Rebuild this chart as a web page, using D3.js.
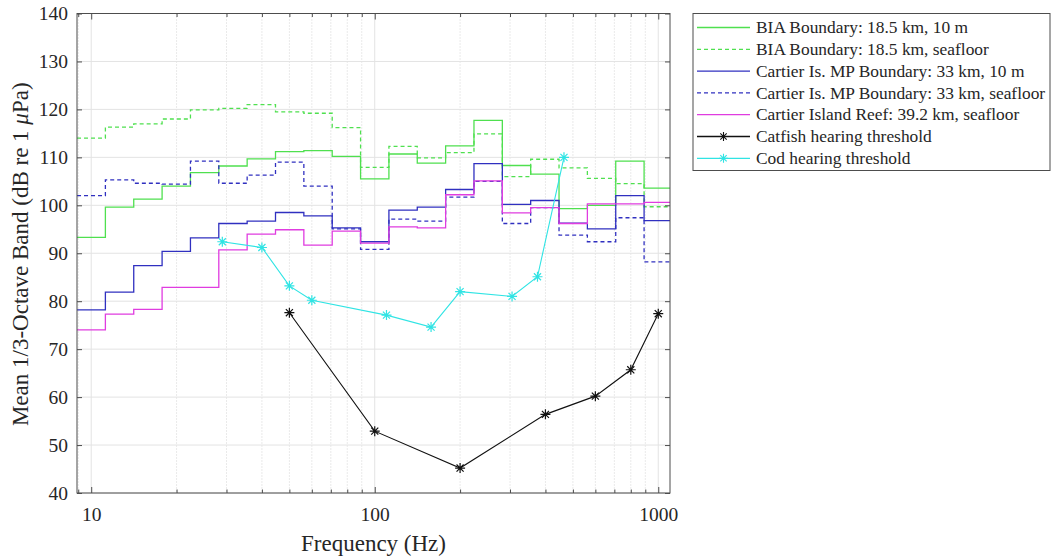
<!DOCTYPE html>
<html>
<head>
<meta charset="utf-8">
<script src="https://cdn.jsdelivr.net/npm/d3@7"></script>
<style>
  html, body { margin: 0; padding: 0; background: #fff; }
  svg { display: block; }
  svg text { font-family: "Liberation Serif", "Times New Roman", serif; fill: #262626; }
</style>
</head>
<body>
<svg id="chart" width="1054" height="556"></svg>
<script>
// 1/3-octave band centre frequencies (Hz)
const bandCenters = [10, 12.5, 16, 20, 25, 31.5, 40, 50, 63, 80, 100, 125, 160, 200, 250, 315, 400, 500, 630, 800, 1000];

// Mean received level per band (dB re 1 µPa)
const biaSurface      = [93.3, 99.6, 101.3, 104.0, 106.8, 108.2, 109.7, 111.2, 111.4, 110.2, 105.5, 110.7, 108.8, 112.4, 117.7, 108.3, 106.5, 99.3, 100.0, 109.2, 103.6];
const biaSeafloor     = [114.0, 116.3, 117.0, 118.0, 119.9, 120.2, 121.0, 119.5, 119.2, 116.2, 107.9, 112.3, 109.9, 111.0, 114.9, 106.0, 109.6, 107.8, 105.6, 104.5, 99.7];
const cartierSurface  = [78.2, 81.9, 87.4, 90.4, 93.2, 96.2, 96.7, 98.5, 97.8, 95.3, 92.4, 99.0, 99.6, 103.3, 108.7, 100.2, 101.0, 96.3, 95.1, 102.0, 96.8];
const cartierSeafloor = [102.0, 105.3, 104.6, 104.4, 109.2, 104.6, 106.3, 109.0, 104.0, 95.1, 90.8, 97.1, 96.7, 101.7, 105.0, 96.2, 99.5, 93.8, 92.4, 97.4, 88.2];
const reefSeafloor    = [74.0, 77.3, 78.3, 82.9, 82.9, 90.7, 94.0, 94.9, 91.7, 94.6, 92.1, 95.5, 95.3, 102.2, 105.1, 98.4, 99.5, 96.2, 100.3, 100.3, 100.6];

// Hearing thresholds
const catfishFreq  = [50, 100, 200, 400, 600, 800, 1000];
const catfishLevel = [77.6, 52.9, 45.2, 56.4, 60.2, 65.7, 77.4];
const codFreq      = [29, 40, 50, 60, 110, 158, 200, 305, 375, 465];
const codLevel     = [92.4, 91.2, 83.2, 80.2, 77.1, 74.6, 82.0, 81.0, 85.1, 110.0];

// Axis ticks
const yTicks = [40, 50, 60, 70, 80, 90, 100, 110, 120, 130, 140];
const xMajorTicks = [10, 100, 1000];
const xTickLabels = ["10", "100", "1000"];

// Legend entries
const legendLabels = [
  "BIA Boundary: 18.5 km, 10 m",
  "BIA Boundary: 18.5 km, seafloor",
  "Cartier Is. MP Boundary: 33 km, 10 m",
  "Cartier Is. MP Boundary: 33 km, seafloor",
  "Cartier Island Reef: 39.2 km, seafloor",
  "Catfish hearing threshold",
  "Cod hearing threshold"
];

const serif = '"Liberation Serif", "Times New Roman", serif';
const colors = { green: "#4fe04f", blue: "#3030c0", magenta: "#e03ce0", black: "#111111", cyan: "#30e4e4" };

const stepSeries = [
  { values: biaSurface,      color: colors.green,   dash: null },
  { values: biaSeafloor,     color: colors.green,   dash: "4,3" },
  { values: cartierSurface,  color: colors.blue,    dash: null },
  { values: cartierSeafloor, color: colors.blue,    dash: "4,3" },
  { values: reefSeafloor,    color: colors.magenta, dash: null }
];
const markerSeries = [
  { freq: catfishFreq, values: catfishLevel, color: colors.black },
  { freq: codFreq,     values: codLevel,     color: colors.cyan }
];

const svg = d3.select("#chart");
const plot = { left: 77, right: 670, top: 13.5, bottom: 493 };

const x = d3.scaleLog().domain([8.91, 1100]).range([plot.left, plot.right]);
const y = d3.scaleLinear().domain([40, 140]).range([plot.bottom, plot.top]);

svg.append("defs").append("clipPath").attr("id", "plotClip")
  .append("rect")
  .attr("x", plot.left).attr("y", plot.top)
  .attr("width", plot.right - plot.left).attr("height", plot.bottom - plot.top);

// Grid
const grid = svg.append("g");
const minorTicks = [9];
[10, 100].forEach(d => { for (let k = 2; k <= 9; k++) minorTicks.push(d * k); });
const minorVisible = minorTicks.filter(f => x(f) > plot.left && x(f) < plot.right);
grid.selectAll("line.minor").data(minorVisible)
  .join("line").attr("class", "minor")
  .attr("x1", d => x(d)).attr("x2", d => x(d))
  .attr("y1", plot.top).attr("y2", plot.bottom)
  .attr("stroke", "#d4d4d4").attr("stroke-width", 1).attr("stroke-dasharray", "1,2");
grid.selectAll("line.vmajor").data(xMajorTicks)
  .join("line").attr("class", "vmajor")
  .attr("x1", d => x(d)).attr("x2", d => x(d))
  .attr("y1", plot.top).attr("y2", plot.bottom)
  .attr("stroke", "#e3e3e3").attr("stroke-width", 1);
grid.selectAll("line.hmajor").data(yTicks)
  .join("line").attr("class", "hmajor")
  .attr("x1", plot.left).attr("x2", plot.right)
  .attr("y1", d => y(d)).attr("y2", d => y(d))
  .attr("stroke", "#e3e3e3").attr("stroke-width", 1);

// Step curves over the 1/3-octave band edges
function bandEdges(fc) {
  const n = Math.round(10 * Math.log10(fc));
  return [Math.pow(10, (n - 0.5) / 10), Math.pow(10, (n + 0.5) / 10)];
}
const line = d3.line().x(d => x(d[0])).y(d => y(d[1]));
const data = svg.append("g").attr("clip-path", "url(#plotClip)");

stepSeries.forEach(s => {
  const pts = [];
  bandCenters.forEach((fc, i) => {
    const [lo, hi] = bandEdges(fc);
    pts.push([lo, s.values[i]], [hi, s.values[i]]);
  });
  data.append("path").datum(pts)
    .attr("d", line)
    .attr("fill", "none")
    .attr("stroke", s.color)
    .attr("stroke-width", 1.3)
    .attr("stroke-dasharray", s.dash);
});

// Eight-armed asterisk marker
function asterisk(r) {
  const d = r * Math.SQRT1_2;
  return `M${-r},0L${r},0M0,${-r}L0,${r}M${-d},${-d}L${d},${d}M${-d},${d}L${d},${-d}`;
}

markerSeries.forEach(s => {
  const pts = s.freq.map((f, i) => [f, s.values[i]]);
  data.append("path").datum(pts)
    .attr("d", line).attr("fill", "none")
    .attr("stroke", s.color).attr("stroke-width", 1.1);
  data.selectAll(null).data(pts).join("path")
    .attr("transform", d => `translate(${x(d[0])},${y(d[1])})`)
    .attr("d", asterisk(5))
    .attr("fill", "none").attr("stroke", s.color).attr("stroke-width", 1.2);
});

// Axes (ticks pointing inward, boxed)
const axisColor = "#4d4d4d";
const axes = svg.append("g");
axes.append("rect")
  .attr("x", plot.left).attr("y", plot.top)
  .attr("width", plot.right - plot.left).attr("height", plot.bottom - plot.top)
  .attr("fill", "none").attr("stroke", axisColor).attr("stroke-width", 1);

axes.append("g").attr("transform", `translate(0,${plot.bottom})`)
  .call(d3.axisBottom(x).tickValues(xMajorTicks).tickSize(-6).tickFormat((d, i) => xTickLabels[i]).tickPadding(14));
axes.append("g").attr("transform", `translate(0,${plot.top})`)
  .call(d3.axisTop(x).tickValues(xMajorTicks).tickSize(-6).tickFormat(""));
axes.append("g").attr("transform", `translate(0,${plot.bottom})`)
  .call(d3.axisBottom(x).tickValues(minorVisible).tickSize(-3.5).tickFormat(""));
axes.append("g").attr("transform", `translate(0,${plot.top})`)
  .call(d3.axisTop(x).tickValues(minorVisible).tickSize(-3.5).tickFormat(""));

axes.append("g").attr("transform", `translate(${plot.left},0)`)
  .call(d3.axisLeft(y).tickValues(yTicks).tickSize(-5).tickPadding(9));
axes.append("g").attr("transform", `translate(${plot.right},0)`)
  .call(d3.axisRight(y).tickValues(yTicks).tickSize(-5).tickFormat(""));

axes.selectAll(".domain").remove();
axes.selectAll(".tick line").attr("stroke", axisColor);
axes.selectAll(".tick text")
  .attr("font-family", serif)
  .attr("font-size", 19.5)
  .attr("fill", "#262626");

// Axis titles
svg.append("text")
  .attr("x", (plot.left + plot.right) / 2)
  .attr("y", 551)
  .attr("text-anchor", "middle")
  .attr("font-family", serif)
  .attr("font-size", 23)
  .text("Frequency (Hz)");

const yl = svg.append("text")
  .attr("transform", `translate(28,${(plot.top + plot.bottom) / 2 + 1}) rotate(-90)`)
  .attr("text-anchor", "middle")
  .attr("font-family", serif)
  .attr("font-size", 23);
yl.append("tspan").text("Mean 1/3-Octave Band (dB re 1 ");
yl.append("tspan").attr("font-style", "italic").text("\u03bc");
yl.append("tspan").text("Pa)");

// Legend
const legend = svg.append("g");
const lg = { x: 693, y: 13.5, w: 357, h: 157, firstRow: 27.5, rowStep: 21.8 };
legend.append("rect")
  .attr("x", lg.x).attr("y", lg.y).attr("width", lg.w).attr("height", lg.h)
  .attr("fill", "#fff").attr("stroke", axisColor).attr("stroke-width", 1);

const legendStyles = [
  ...stepSeries.map(s => ({ color: s.color, dash: s.dash, marker: false })),
  ...markerSeries.map(s => ({ color: s.color, dash: null, marker: true }))
];
legendLabels.forEach((label, i) => {
  const cy = lg.firstRow + i * lg.rowStep;
  const st = legendStyles[i];
  legend.append("line")
    .attr("x1", 697).attr("x2", 750).attr("y1", cy).attr("y2", cy)
    .attr("stroke", st.color).attr("stroke-width", 1.3)
    .attr("stroke-dasharray", st.dash);
  if (st.marker) {
    legend.append("path")
      .attr("transform", `translate(723.5,${cy})`)
      .attr("d", asterisk(4.5))
      .attr("fill", "none").attr("stroke", st.color).attr("stroke-width", 1.1);
  }
  legend.append("text")
    .attr("x", 756).attr("y", cy).attr("dy", "0.33em")
    .attr("font-family", serif)
    .attr("font-size", 17.4)
    .text(label);
});
</script>
</body>
</html>
